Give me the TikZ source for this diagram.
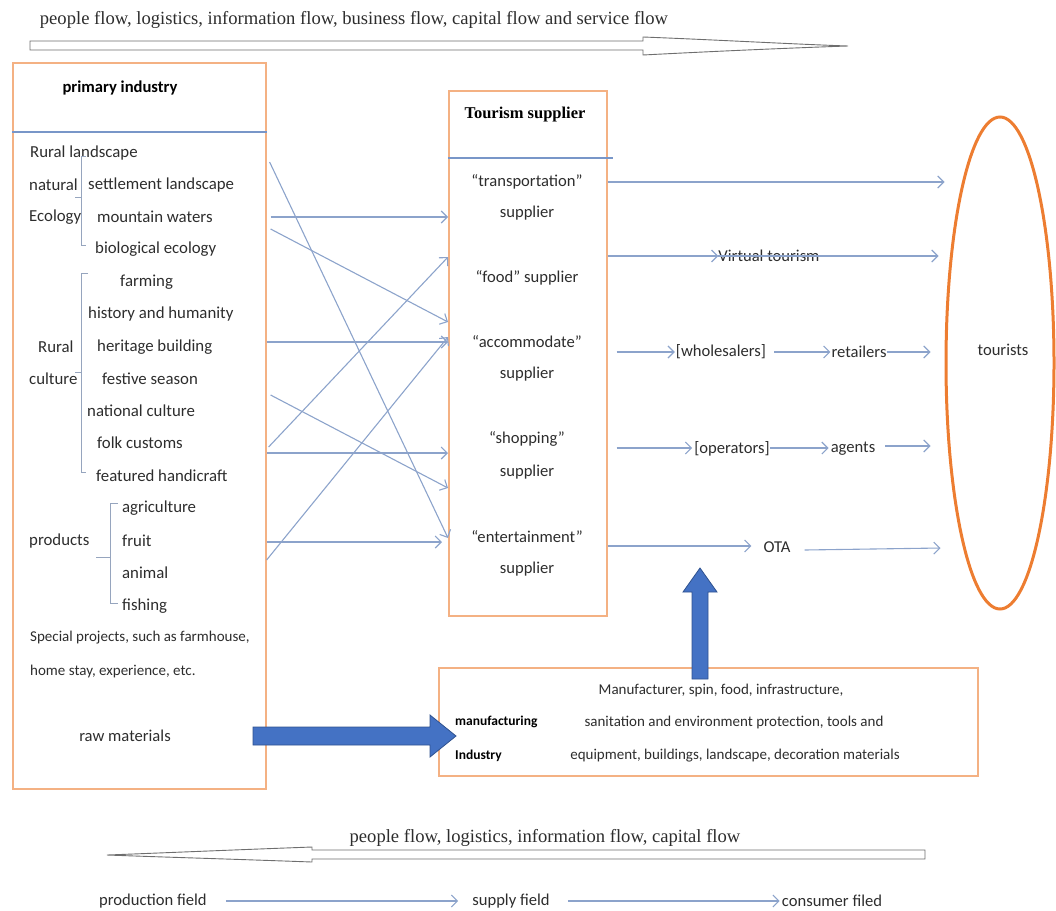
\documentclass[tikz,border=0pt]{standalone}
\usepackage{fontspec}
\setmainfont{Liberation Serif}
\setsansfont{Carlito}
\usetikzlibrary{arrows.meta,shapes.geometric}
\definecolor{boxor}{RGB}{244,177,131}
\definecolor{conn}{RGB}{140,163,203}
\definecolor{divl}{RGB}{120,150,200}
\definecolor{ellor}{RGB}{237,125,49}
\definecolor{bluef}{RGB}{68,114,196}
\definecolor{blued}{RGB}{47,82,143}
\definecolor{txt}{RGB}{45,45,45}
\definecolor{hollow}{RGB}{110,110,110}
\definecolor{brace}{RGB}{150,165,190}
\begin{document}
\begin{tikzpicture}[x=1pt,y=-1pt,
  obox/.style={draw=boxor, line width=1.6pt, anchor=north west, inner sep=0pt},
  lt/.style={anchor=west, inner sep=0pt, text=txt, font=\sffamily\fontsize{16.8}{19}\selectfont},
  ltc/.style={anchor=west, inner sep=0pt, text=txt, font=\sffamily\fontsize{15}{17}\selectfont},
  ct/.style={anchor=center, inner sep=0pt, text=txt, font=\sffamily\fontsize{16.6}{19}\selectfont},
  mt/.style={anchor=center, inner sep=0pt, text=txt, font=\sffamily\fontsize{15}{17}\selectfont},
  bt/.style={anchor=west, inner sep=0pt, text=black, font=\sffamily\bfseries\fontsize{13.5}{15}\selectfont},
  sert/.style={anchor=center, inner sep=0pt, text=txt, font=\rmfamily\fontsize{18.6}{21}\selectfont},
  cn/.style={draw=conn, line width=1.1pt, -{Straight Barb[length=6pt,width=12pt]}},
  brl/.style={draw=brace, line width=0.9pt},
  divline/.style={draw=divl, line width=1.1pt},
  hollowarrow/.style={draw=hollow, line width=0.9pt, fill=white},
  fatarrow/.style={draw=blued, line width=0.8pt, fill=bluef}
]
\useasboundingbox (0,0) rectangle (1056,910);

% top flow arrow
\node[sert] (toptxt) at (354,20) {people flow, logistics, information flow, business flow, capital flow and service flow};
\draw[hollowarrow] (30,41) -- (643,41) -- (643,37) .. controls (720,40) and (790,44) .. (848,46) .. controls (790,48) and (720,51) .. (643,55) -- (643,50) -- (30,50) -- cycle;

% primary industry box
\node[obox, minimum width=253pt, minimum height=726pt] (prim) at (12,62) {};
\node[anchor=center, inner sep=0pt, font=\sffamily\bfseries\fontsize{16.6}{19}\selectfont] (primt) at (120,88) {primary industry};
\draw[divline] (prim.west |- 0,132) -- (prim.east |- 0,132);

\node[lt] (rl) at (30,153) {Rural landscape};
\node[lt] (nat) at (29,185) {natural};
\node[lt] (sl) at (88,185) {settlement landscape};
\node[lt] (eco) at (29,217) {Ecology};
\node[lt] (mw) at (97,217) {mountain waters};
\node[lt] (be) at (95,249) {biological ecology};
\node[lt] (farm) at (120,282) {farming};
\node[lt] (hh) at (88,314) {history and humanity};
\node[lt] (rur) at (38,347) {Rural};
\node[lt] (hb) at (97,347) {heritage building};
\node[lt] (cul) at (29,379) {culture};
\node[lt] (fs) at (102,379) {festive season};
\node[lt] (nc) at (87,411) {national culture};
\node[lt] (fc) at (97,443) {folk customs};
\node[lt] (fh) at (96,476) {featured handicraft};
\node[lt] (agr) at (122,508) {agriculture};
\node[lt] (prod) at (29,541) {products};
\node[lt] (fru) at (122,541) {fruit};
\node[lt] (ani) at (122,573) {animal};
\node[lt] (fish) at (122,606) {fishing};
\node[ltc] (sp1) at (30,638) {Special projects, such as farmhouse,};
\node[ltc] (sp2) at (30,671) {home stay, experience, etc.};
\node[ct] (raw) at (125,736) {raw materials};

% braces
\draw[brl] (86,156) -- (81,156) -- (81,245) -- (86,245);
\draw[brl] (75,197) -- (81,197);
\draw[brl] (88,273) -- (81,273) -- (81,472) -- (86,472);
\draw[brl] (75,372) -- (81,372);
\draw[brl] (118,503) -- (110,503) -- (110,603) -- (118,603);
\draw[brl] (96,557) -- (110,557);

% tourism supplier box
\node[obox, minimum width=158pt, minimum height=525pt] (sup) at (448,90) {};
\node[anchor=center, inner sep=0pt, font=\rmfamily\bfseries\fontsize{16.5}{19}\selectfont] (supt) at (525,115) {Tourism supplier};
\draw[divline] (sup.west |- 0,158) -- ([xshift=5pt]sup.east |- 0,158);
\node[ct] (tr1) at (527,182) {“transportation”};
\node[ct] (tr2) at (527,213) {supplier};
\node[ct] (fo) at (527,278) {“food” supplier};
\node[ct] (ac1) at (527,342) {“accommodate”};
\node[ct] (ac2) at (527,374) {supplier};
\node[ct] (sh1) at (527,439) {“shopping”};
\node[ct] (sh2) at (527,472) {supplier};
\node[ct] (en1) at (527,537) {“entertainment”};
\node[ct] (en2) at (527,569) {supplier};

% cross connectors primary -> supplier
\draw[cn] ([xshift=3pt]prim.east |- 0,162) -- (sup.west |- 0,538);
\draw[cn] ([xshift=4pt]prim.east |- 0,217) -- (sup.west |- 0,217);
\draw[cn] ([xshift=4pt]prim.east |- 0,229) -- (sup.west |- 0,322);
\draw[cn] ([xshift=2pt]prim.east |- 0,447) -- (sup.west |- 0,257);
\draw[cn] (prim.east |- 0,342) -- (sup.west |- 0,342);
\draw[cn] ([xshift=4pt]prim.east |- 0,395) -- (sup.west |- 0,488);
\draw[cn] (prim.east |- 0,560) -- (sup.west |- 0,337);
\draw[cn] (prim.east |- 0,453) -- (sup.west |- 0,453);
\draw[cn] (prim.east |- 0,542) -- ([xshift=-6pt]sup.west |- 0,542);

% tourists ellipse
\node[draw=ellor, line width=3pt, ellipse, minimum width=108pt, minimum height=492pt, inner sep=0pt] (tour) at (1000,363) {};
\node[ct] (tourt) at (1003,350) {tourists};

% right side channels
\node[ct] (virt) at (769,256) {Virtual tourism};
\node[ct] (whole) at (721,352) {[wholesalers]};
\node[ct] (retail) at (859,352) {retailers};
\node[ct] (oper) at (732,449) {[operators]};
\node[ct] (agents) at (853,449) {agents};
\node[ct] (ota) at (777,547) {OTA};

\draw[cn] (sup.east |- 0,182) -- (tour.west |- 0,182);
\draw[cn] (sup.east |- virt) -- (virt.west);
\draw[cn] (virt.west) -- ([xshift=-6pt]tour.west |- 0,256);
\draw[cn] ([xshift=9pt]sup.east |- whole) -- ([xshift=-1pt]whole.west);
\draw[cn] ([xshift=8pt]whole.east |- 0,352) -- ([xshift=-1pt]retail.west);
\draw[cn] (retail.east) -- ([xshift=-14pt]tour.west |- retail);
\draw[cn] ([xshift=9pt]sup.east |- 0,448) -- ([xshift=-2pt]oper.west |- 0,448);
\draw[cn] (oper.east |- 0,448) -- ([xshift=-2pt]agents.west |- 0,448);
\draw[cn] ([xshift=10pt]agents.east |- 0,446) -- ([xshift=-14pt]tour.west |- 0,446);
\draw[cn] (sup.east |- 0,546) -- ([xshift=-12pt]ota.west |- 0,546);
\draw[cn] ([xshift=14pt]ota.east |- 0,550) -- ([xshift=-4pt]tour.west |- 0,548);

% manufacturing box
\node[obox, minimum width=539pt, minimum height=108pt] (man) at (438,667) {};
\node[mt] (m1) at (721,690) {Manufacturer, spin, food, infrastructure,};
\node[bt] (mfg) at (455,722) {manufacturing};
\node[mt] (m2) at (734,722) {sanitation and environment protection, tools and};
\node[bt] (ind) at (455,756) {Industry};
\node[mt] (m3) at (735,756) {equipment, buildings, landscape, decoration materials};

% fat blue arrows
\draw[fatarrow] (253,727) -- (430,727) -- (430,715) -- (456,736) -- (430,757) -- (430,745) -- (253,745) -- cycle;
\draw[fatarrow] (692,679) -- (692,592) -- (683,592) -- (700,568) -- (717,592) -- (708,592) -- (708,679) -- cycle;

% bottom flow arrow
\node[sert] (bottxt) at (545,838) {people flow, logistics, information flow, capital flow};
\draw[hollowarrow] (925,850) -- (312,850) -- (312,847) .. controls (230,850) and (160,853) .. (107,855) .. controls (160,857) and (230,859) .. (312,862) -- (312,859) -- (925,859) -- cycle;

% bottom fields
\node[ct] (pf) at (153,901) {production field};
\node[ct] (sf) at (511,901) {supply field};
\node[ct] (cf) at (832,901) {consumer filed};
\draw[cn] ([xshift=19pt]pf.east) -- ([xshift=-14pt]sf.west);
\draw[cn] ([xshift=18pt]sf.east) -- ([xshift=-2pt]cf.west);
\end{tikzpicture}
\end{document}
